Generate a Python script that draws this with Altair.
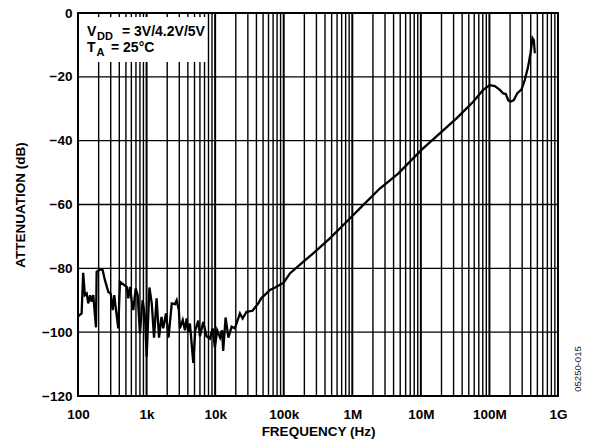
import altair as alt
import pandas as pd

# Supply-rejection sweep: frequency (Hz) vs attenuation (dB)
freq_hz = [
    101, 113, 119, 126, 134, 141, 150, 158, 167, 183, 187, 209, 229, 247, 277,
    300, 320, 338, 358, 387, 409, 458, 513, 541, 572, 606, 640, 694, 742, 800,
    876, 948, 1003, 1100, 1190, 1285, 1400, 1520, 1650, 1750, 1920, 2090, 2330,
    2600, 2750, 2960, 3060, 3370, 3630, 3840, 4060, 4290, 4800, 5130, 5680,
    6000, 6700, 7500, 8400, 9200, 9900, 10700, 11800, 12600, 13100, 14200,
    15600, 17400, 19400, 23000, 25200, 28700, 35000, 42600, 47000, 55000,
    63000, 75000, 100000, 123000, 192000, 269000, 471000, 826000, 1440000,
    2520000, 4670000, 10200000, 18900000, 33100000, 58000000, 81000000,
    101000000, 120000000, 142000000, 159000000, 173000000, 188000000,
    203000000, 227000000, 254000000, 294000000, 328000000, 367000000,
    397000000, 425000000, 444000000, 459000000,
]
atten_db = [
    -95.0, -94.1, -81.4, -88.4, -87.9, -91.0, -88.4, -90.5, -88.4, -98.5,
    -81.1, -80.3, -80.6, -83.7, -87.4, -87.9, -93.1, -88.4, -93.1, -98.8,
    -84.2, -85.0, -85.8, -89.4, -85.8, -90.0, -93.1, -86.3, -88.4, -100.4,
    -90.0, -95.2, -107.7, -86.0, -91.0, -101.7, -89.4, -101.7, -95.2, -98.8,
    -94.1, -101.7, -91.0, -91.2, -90.0, -93.1, -98.8, -96.2, -99.4, -95.7,
    -99.9, -97.3, -109.6, -99.4, -96.4, -101.3, -96.8, -101.3, -102.0, -98.8,
    -104.8, -99.4, -101.7, -99.4, -105.9, -95.4, -101.7, -98.3, -98.8, -94.1,
    -95.7, -93.6, -93.3, -91.0, -89.4, -88.0, -86.8, -86.0, -84.5, -81.6,
    -78.0, -75.3, -70.6, -65.4, -60.2, -55.0, -50.3, -42.9, -37.7, -33.0,
    -27.8, -24.1, -22.6, -22.9, -24.1, -25.2, -25.4, -27.3, -27.8, -27.3,
    -25.2, -23.9, -21.0, -16.8, -12.6, -7.9, -8.5, -12.6,
]

decade_freqs = [1e2, 1e3, 1e4, 1e5, 1e6, 1e7, 1e8, 1e9]
decade_labels = ["100", "1k", "10k", "100k", "1M", "10M", "100M", "1G"]
minor_freqs = [m * 10 ** e for e in range(2, 9) for m in range(2, 10)]
atten_ticks = [0, -20, -40, -60, -80, -100, -120]
hgrid_levels = [-20, -40, -60, -80, -100]

FONT = "Liberation Sans"
W, H = 480, 383

x_scale = alt.Scale(type="log", domain=[1e2, 1e9], nice=False)
y_scale = alt.Scale(domain=[-120, 0], nice=False)

label_expr = (
    "['" + "','".join(decade_labels) + "'][round(log(datum.value)/LN10) - 2]"
)

x_axis = alt.Axis(
    values=decade_freqs,
    labelExpr=label_expr,
    grid=False,
    ticks=False,
    domain=False,
    labelPadding=11,
    labelFont=FONT,
    labelFontWeight="bold",
    labelFontSize=13.5,
    labelColor="black",
    titleFont=FONT,
    titleFontWeight="bold",
    titleFontSize=13.5,
    titleColor="black",
    titlePadding=4,
    labelFlush=False,
    labelOverlap=False,
)
y_axis = alt.Axis(
    values=atten_ticks,
    labelExpr="datum.value == 0 ? '0' : '\u2212' + abs(datum.value)",
    grid=False,
    ticks=False,
    domain=False,
    labelPadding=6,
    labelFont=FONT,
    labelFontWeight="bold",
    labelFontSize=13.5,
    labelColor="black",
    titleFont=FONT,
    titleFontWeight="bold",
    titleFontSize=13.5,
    titleColor="black",
    titlePadding=14,
    labelFlush=False,
    labelOverlap=False,
)

X_TITLE = "FREQUENCY (Hz)"
Y_TITLE = "ATTENUATION (dB)"


def xenc():
    return alt.X("f:Q", scale=x_scale, axis=x_axis, title=X_TITLE)


def yenc():
    return alt.Y("db:Q", scale=y_scale, axis=y_axis, title=Y_TITLE)


curve_df = pd.DataFrame({"f": freq_hz, "db": atten_db})
minor_df = pd.DataFrame({"f": minor_freqs})
decade_df = pd.DataFrame({"f": decade_freqs})
hgrid_df = pd.DataFrame({"db": hgrid_levels})

minor_grid = alt.Chart(minor_df).mark_rule(color="black", strokeWidth=1.4).encode(x=xenc())
decade_grid = alt.Chart(decade_df).mark_rule(color="black", strokeWidth=2).encode(x=xenc())
h_grid = alt.Chart(hgrid_df).mark_rule(color="black", strokeWidth=1.4).encode(y=yenc())

# White panel behind the test-condition text (grid stubs stay visible at the top edge)
note_panel = alt.Chart(pd.DataFrame({"k": [0]})).mark_rect(color="white").encode(
    x=alt.value(1), x2=alt.value(129), y=alt.value(4), y2=alt.value(49)
)

curve = alt.Chart(curve_df).mark_line(color="black", strokeWidth=2.3).encode(
    x=xenc(), y=yenc(), order=alt.Order("f:Q")
)


# Test-condition legend in the upper-left corner
def note(text, x, y, size):
    return alt.Chart(pd.DataFrame({"t": [text]})).mark_text(
        align="left", baseline="alphabetic", font=FONT, fontWeight="bold",
        fontSize=size, color="black",
    ).encode(text="t:N", x=alt.value(x), y=alt.value(y))


notes = [
    note("V", 9, 23, 14),
    note("DD", 19, 27, 11),
    note("= 3V/4.2V/5V", 44, 23, 14),
    note("T", 9, 38.5, 14),
    note("A", 18.5, 42.5, 11),
    note("= 25\u00b0C", 33, 38.5, 14),
]

fig_code = alt.Chart(pd.DataFrame({"t": ["05250-015"]})).mark_text(
    angle=270, font=FONT, fontSize=9.5, color="#222222",
    align="center", baseline="middle",
).encode(text="t:N", x=alt.value(W + 20), y=alt.value(356))

chart = alt.layer(
    minor_grid, decade_grid, h_grid, note_panel, curve, *notes, fig_code
).properties(
    width=W,
    height=H,
    autosize=alt.AutoSizeParams(type="none"),
    padding={"left": 78, "top": 13, "right": 33, "bottom": 50},
    background="white",
).configure_view(stroke="black", strokeWidth=1.8)

chart.save("out.html", embed_options={"renderer": "svg", "actions": False})
